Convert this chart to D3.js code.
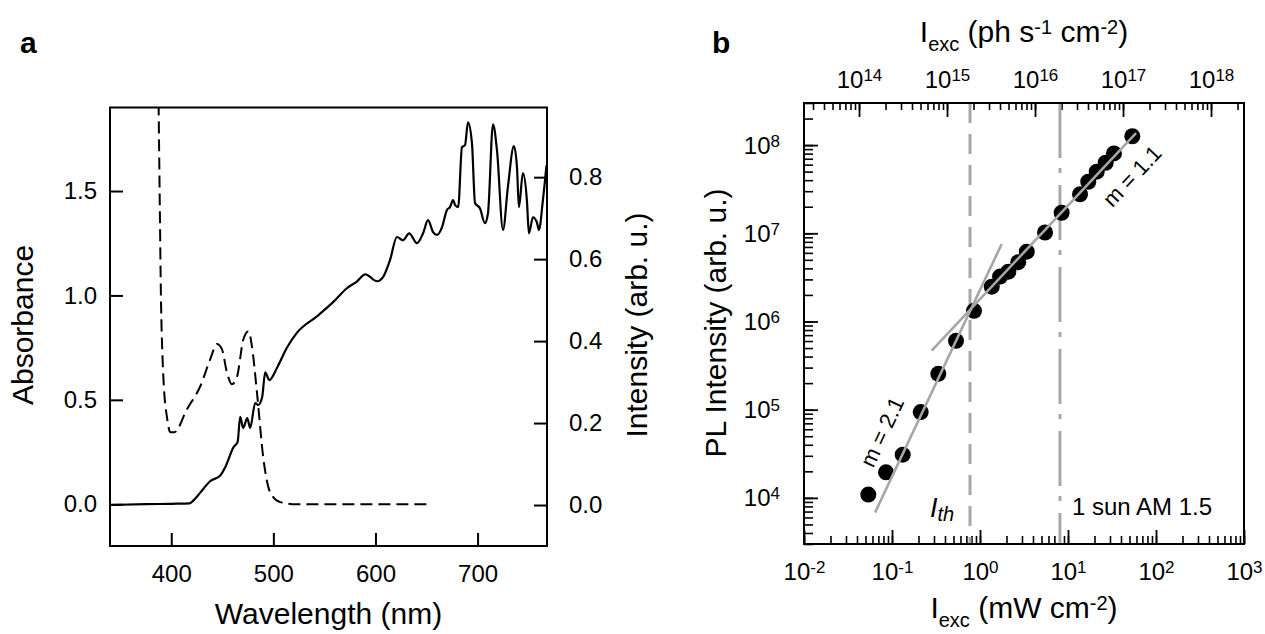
<!DOCTYPE html>
<html><head><meta charset="utf-8">
<script src="https://cdn.jsdelivr.net/npm/d3@7"></script>
<style>
body{margin:0;background:#fff}
svg text{font-family:"Liberation Sans",Arial,sans-serif;fill:#000}
</style>
</head><body>
<svg id="c" width="1265" height="634"></svg>
<script>
// ---------------- DATA ----------------
// Panel a: absorbance (dashed, left axis)
const absWl  = [387.6,388.7,389.9,391.5,392.8,395.8,399,403,415.4,428.4,438.2,444.7,449.6,454.5,459.4,464.3,470.7,475.6,479,483.9,490.3,496.9,506.7,523,650];
const absVal = [1.92,1.46,0.99,0.695,0.56,0.417,0.345,0.345,0.455,0.565,0.695,0.767,0.743,0.632,0.575,0.609,0.791,0.829,0.757,0.537,0.216,0.057,0.010,0.0,0.0];
// Panel a: intensity (solid, right axis)
const intWl  = [340,375,400,418,422,428,438,448,453,461,465,467.5,470.5,474.4,477.3,482.2,485.1,489,492,496,504,513.5,523,543,558.5,572,582,590,601.6,607.4,614.3,621,627,633,640.7,646.6,651.5,656.4,660.3,665.2,670,673,676,678,681,684.7,687.7,690.6,694.5,697.5,702.3,707.2,710.2,715.1,719,724.9,729.7,735.6,738.6,740.5,744.4,748.3,750.3,754.2,758.1,760.1,764,767.5];
const intVal = [0,0.002,0.003,0.004,0.012,0.029,0.058,0.072,0.093,0.141,0.154,0.215,0.188,0.212,0.188,0.249,0.244,0.263,0.324,0.305,0.337,0.385,0.420,0.461,0.495,0.529,0.546,0.563,0.546,0.556,0.598,0.654,0.646,0.663,0.639,0.663,0.695,0.666,0.659,0.678,0.720,0.727,0.744,0.732,0.727,0.873,0.878,0.934,0.883,0.737,0.724,0.688,0.712,0.929,0.866,0.671,0.776,0.876,0.824,0.727,0.810,0.744,0.663,0.702,0.690,0.671,0.744,0.829];
const aXTicks = [400,500,600,700];
const aLeftTicks = [0,0.5,1.0,1.5];
const aRightTicks = [0,0.2,0.4,0.6,0.8];

// Panel b: PL intensity vs excitation
const plPower = [0.0538,0.0855,0.1324,0.212,0.336,0.534,0.855,1.36,1.69,2.10,2.72,3.40,5.48,8.47,13.7,17.0,21.2,26.8,33.3,53.8];
const plIntensity = [1.09e4,1.95e4,3.09e4,9.4e4,2.55e5,6.03e5,1.32e6,2.48e6,3.23e6,3.67e6,4.70e6,6.19e6,1.02e7,1.71e7,2.77e7,3.84e7,4.99e7,6.31e7,8.05e7,1.26e8];
const fitSteepP = [0.0641,1.765],  fitSteepI = [6.8e3,7.57e6];
const fitShallowP = [0.2825,59.3], fitShallowI = [4.68e5,1.37e8];
const thresholdP = 0.77;  // I_th
const sunP = 8.1;         // 1 sun AM 1.5
const photonFactor = 2.37e15; // ph s^-1 cm^-2 per mW cm^-2
const bXTicks = [1e-2,1e-1,1e0,1e1,1e2,1e3];
const bYTicks = [1e4,1e5,1e6,1e7,1e8];
const bTopTicks = [1e14,1e15,1e16,1e17,1e18];

// ---------------- DRAW ----------------
const svg = d3.select("#c");
const TF = 24;

// ===== Panel a =====
const A = {l:110, r:547, t:107.5, b:546};
const xa = d3.scaleLinear().domain([340,768]).range([A.l,A.r]);
const ya = d3.scaleLinear().domain([-0.2,1.9]).range([A.b,A.t]);
const ya2 = d3.scaleLinear().domain([-0.1,0.97]).range([A.b,A.t]);

svg.append("clipPath").attr("id","clipA").append("rect")
  .attr("x",A.l).attr("y",A.t).attr("width",A.r-A.l).attr("height",A.b-A.t);

const gA = svg.append("g");
const ga1 = gA.append("g").attr("transform",`translate(0,${A.b})`)
  .call(d3.axisBottom(xa).tickValues(aXTicks).tickSize(-13).tickSizeOuter(0).tickFormat(d3.format("d")));
ga1.selectAll("text").attr("y",36).attr("dy",null);
const ga2 = gA.append("g").attr("transform",`translate(${A.l},0)`)
  .call(d3.axisLeft(ya).tickValues(aLeftTicks).tickSize(-13).tickSizeOuter(0).tickFormat(d3.format(".1f")));
ga2.selectAll("text").attr("x",-13);
const ga3 = gA.append("g").attr("transform",`translate(${A.r},0)`)
  .call(d3.axisRight(ya2).tickValues(aRightTicks).tickSize(-13).tickSizeOuter(0).tickFormat(d3.format(".1f")));
ga3.selectAll("text").attr("x",22);
[ga1,ga2,ga3].forEach(g=>{
  g.select(".domain").remove();
  g.selectAll("line").attr("stroke","#000").attr("stroke-width",2);
  g.selectAll("text").attr("font-size",TF).attr("font-family","Liberation Sans, Arial, sans-serif");
});

const lineAbs = d3.line().x((d,i)=>xa(absWl[i])).y(d=>ya(d)).curve(d3.curveMonotoneX);
const lineInt = d3.line().x((d,i)=>xa(intWl[i])).y(d=>ya2(d)).curve(d3.curveMonotoneX);
gA.append("path").attr("clip-path","url(#clipA)").attr("d",lineAbs(absVal))
  .attr("fill","none").attr("stroke","#000").attr("stroke-width",2).attr("stroke-dasharray","12,6");
gA.append("path").attr("clip-path","url(#clipA)").attr("d",lineInt(intVal))
  .attr("fill","none").attr("stroke","#000").attr("stroke-width",2.2).attr("stroke-linejoin","round");

gA.append("rect").attr("x",A.l).attr("y",A.t).attr("width",A.r-A.l).attr("height",A.b-A.t)
  .attr("fill","none").attr("stroke","#000").attr("stroke-width",2);

gA.append("text").attr("transform","translate(33,325) rotate(-90)").attr("text-anchor","middle")
  .attr("font-size",30).text("Absorbance");
gA.append("text").attr("transform","translate(647,325) rotate(-90)").attr("text-anchor","middle")
  .attr("font-size",30).text("Intensity (arb. u.)");
gA.append("text").attr("x",(A.l+A.r)/2).attr("y",624).attr("text-anchor","middle")
  .attr("font-size",30).text("Wavelength (nm)");
svg.append("text").attr("x",20).attr("y",53).attr("font-size",30).attr("font-weight","bold").text("a");
svg.append("text").attr("x",712).attr("y",53).attr("font-size",30).attr("font-weight","bold").text("b");

// ===== Panel b =====
const B = {l:804, r:1244, t:103, b:544};
const xb = d3.scaleLog().domain([0.01,1000]).range([B.l,B.r]);
const xbTop = d3.scaleLog().domain([0.01*photonFactor,1000*photonFactor]).range([B.l,B.r]);
const yb = d3.scaleLog().domain([3e3,3e8]).range([B.b,B.t]);
const gB = svg.append("g");

function supLabels(sel){
  sel.each(function(d){
    const t = d3.select(this); t.text(null);
    const e = Math.round(Math.log10(d));
    t.append("tspan").text("10");
    t.append("tspan").attr("font-size",17).attr("dy",-7).text(String(e).replace("\u2212","-"));
  });
}
// minor ticks
const minorStyle = g=>{g.select(".domain").remove(); g.selectAll("text").remove();
  g.selectAll("line").attr("stroke","#000").attr("stroke-width",1.6);};
gB.append("g").attr("transform",`translate(0,${B.b})`)
  .call(d3.axisBottom(xb).tickValues(xb.ticks()).tickSize(-8).tickSizeOuter(0)).call(minorStyle);
gB.append("g").attr("transform",`translate(0,${B.t})`)
  .call(d3.axisTop(xbTop).tickValues(xbTop.ticks()).tickSize(-7).tickSizeOuter(0)).call(minorStyle);
gB.append("g").attr("transform",`translate(${B.l},0)`)
  .call(d3.axisLeft(yb).tickValues(yb.ticks()).tickSize(-9).tickSizeOuter(0)).call(minorStyle);
// major ticks
const majorStyle = g=>{g.select(".domain").remove();
  g.selectAll("line").attr("stroke","#000").attr("stroke-width",1.8);
  g.selectAll("text").attr("font-size",TF).attr("font-family","Liberation Sans, Arial, sans-serif").call(supLabels);};
const gbx = gB.append("g").attr("transform",`translate(0,${B.b})`)
  .call(d3.axisBottom(xb).tickValues(bXTicks).tickSize(-14).tickSizeOuter(0)).call(majorStyle);
gbx.selectAll("text").attr("y",36).attr("dy",null);
const gbt = gB.append("g").attr("transform",`translate(0,${B.t})`)
  .call(d3.axisTop(xbTop).tickValues(bTopTicks).tickSize(-14).tickSizeOuter(0)).call(majorStyle);
gbt.selectAll("text").attr("y",-15).attr("dy",null);
const gby = gB.append("g").attr("transform",`translate(${B.l},0)`)
  .call(d3.axisLeft(yb).tickValues(bYTicks).tickSize(-14).tickSizeOuter(0)).call(majorStyle);
gby.selectAll("text").attr("x",-24).attr("dy",8);

// vertical reference lines
gB.append("line").attr("x1",xb(thresholdP)).attr("x2",xb(thresholdP)).attr("y1",B.t).attr("y2",B.b)
  .attr("stroke","#a8a8a8").attr("stroke-width",3).attr("stroke-dasharray","20,11");
gB.append("line").attr("x1",xb(sunP)).attr("x2",xb(sunP)).attr("y1",B.t).attr("y2",B.b)
  .attr("stroke","#a8a8a8").attr("stroke-width",3).attr("stroke-dasharray","55,10,5,12");

// points
gB.append("g").selectAll("circle").data(plPower).join("circle")
  .attr("cx",d=>xb(d)).attr("cy",(d,i)=>yb(plIntensity[i])).attr("r",8).attr("fill","#000");

// fit lines
gB.append("line").attr("x1",xb(fitSteepP[0])).attr("y1",yb(fitSteepI[0]))
  .attr("x2",xb(fitSteepP[1])).attr("y2",yb(fitSteepI[1]))
  .attr("stroke","#a6a6a6").attr("stroke-width",2.6);
gB.append("line").attr("x1",xb(fitShallowP[0])).attr("y1",yb(fitShallowI[0]))
  .attr("x2",xb(fitShallowP[1])).attr("y2",yb(fitShallowI[1]))
  .attr("stroke","#a6a6a6").attr("stroke-width",2.6);

gB.append("rect").attr("x",B.l).attr("y",B.t).attr("width",B.r-B.l).attr("height",B.b-B.t)
  .attr("fill","none").attr("stroke","#000").attr("stroke-width",2);

// annotations
gB.append("text").attr("transform","translate(882,432) rotate(-64.8)").attr("text-anchor","middle")
  .attr("dy","0.35em").attr("font-size",22).text("m = 2.1");
gB.append("text").attr("transform","translate(1132,176) rotate(-46.6)").attr("text-anchor","middle")
  .attr("dy","0.35em").attr("font-size",22).text("m = 1.1");
const ith = gB.append("text").attr("x",930).attr("y",517).attr("font-family","Liberation Serif, serif")
  .attr("font-style","italic").attr("font-size",27);
ith.append("tspan").text("I");
ith.append("tspan").attr("font-size",20).attr("dy",4).text("th");
gB.append("text").attr("x",1072).attr("y",515).attr("font-size",TF).text("1 sun AM 1.5");

// axis titles
gB.append("text").attr("transform","translate(726,323) rotate(-90)").attr("text-anchor","middle")
  .attr("font-size",30).text("PL Intensity (arb. u.)");
function excTitle(x,y,parts){
  const t = gB.append("text").attr("x",x).attr("y",y).attr("text-anchor","middle").attr("font-size",30);
  t.append("tspan").text("I");
  t.append("tspan").attr("font-size",20).attr("dy",9).text("exc");
  parts.forEach(p=>{
    if(p.sup){ t.append("tspan").attr("font-size",20).attr("dy",p.dy).text(p.s); }
    else { t.append("tspan").attr("dy",p.dy).text(p.s); }
  });
}
excTitle(1024,42,[{s:" (ph s",dy:-9},{s:"-1",sup:1,dy:-8},{s:" cm",dy:8},{s:"-2",sup:1,dy:-8},{s:")",dy:8}]);
excTitle(1024,618,[{s:" (mW cm",dy:-9},{s:"-2",sup:1,dy:-8},{s:")",dy:8}]);
</script>
</body></html>
